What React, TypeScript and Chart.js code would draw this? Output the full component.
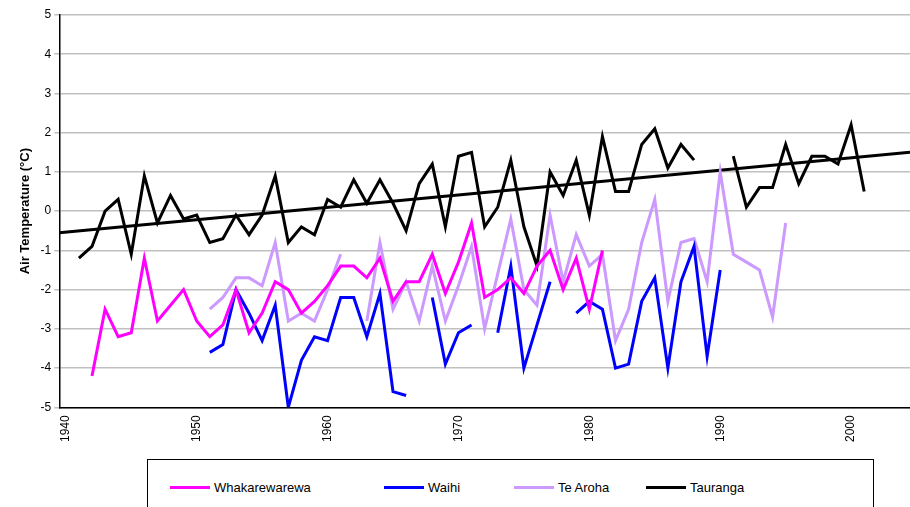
import React, { useEffect, useRef } from "react";
import { Chart, registerables } from "chart.js";
Chart.register(...registerables);

const taurangaStart = 1941;
const tauranga = [-1.2,-0.9,0,0.3,-1.1,0.9,-0.3,0.4,-0.2,-0.1,-0.8,-0.7,-0.1,-0.6,-0.1,0.9,-0.8,-0.4,-0.6,0.3,0.1,0.8,0.2,0.8,0.2,-0.5,0.7,1.2,-0.4,1.4,1.5,-0.4,0.1,1.3,-0.4,-1.4,1.0,0.4,1.3,-0.1,1.9,0.5,0.5,1.7,2.1,1.1,1.7,1.3,null,null,1.4,0.1,0.6,0.6,1.7,0.7,1.4,1.4,1.2,2.2,0.5];
const whakaStart = 1942;
const whaka = [-4.2,-2.5,-3.2,-3.1,-1.2,-2.8,-2.4,-2.0,-2.8,-3.2,-2.9,-2.0,-3.1,-2.6,-1.8,-2.0,-2.6,-2.3,-1.9,-1.4,-1.4,-1.7,-1.2,-2.3,-1.8,-1.8,-1.1,-2.1,-1.3,-0.3,-2.2,-2.0,-1.7,-2.1,-1.4,-1.0,-2.0,-1.2,-2.5,-1.0];
const waihiStart = 1951;
const waihi = [-3.6,-3.4,-2.0,-2.6,-3.3,-2.4,-5.0,-3.8,-3.2,-3.3,-2.2,-2.2,-3.2,-2.1,-4.6,-4.7,null,-2.2,-3.9,-3.1,-2.9,null,-3.1,-1.4,-4.0,-2.9,-1.8,null,-2.6,-2.3,-2.5,-4.0,-3.9,-2.3,-1.7,-4.0,-1.8,-0.9,-3.7,-1.5];
const aroahaStart = 1951;
const teAroha = [-2.5,-2.2,-1.7,-1.7,-1.9,-0.8,-2.8,-2.6,-2.8,-2.0,-1.1,null,-2.8,-0.8,-2.5,-1.8,-2.8,-1.4,-2.8,-1.9,-0.9,-3.0,-1.6,-0.2,-2.0,-2.4,-0.1,-1.8,-0.6,-1.4,-1.1,-3.3,-2.5,-0.8,0.3,-2.3,-0.8,-0.7,-1.8,1.0,-1.1,-1.3,-1.5,-2.7,-0.3];
const trendYears = [1939.5, 2004.5];
const trendValues = [-0.55, 1.5];
const xTicks = [1940, 1950, 1960, 1970, 1980, 1990, 2000];

const toPts = (start: number, arr: (number | null)[]) => arr.map((v, i) => ({ x: start + i, y: v }));

const legendItems = [
  { label: "Whakarewarewa", color: "#ff00ff", left: 22 },
  { label: "Waihi", color: "#0000ff", left: 236 },
  { label: "Te Aroha", color: "#cc99ff", left: 366 },
  { label: "Tauranga", color: "#000000", left: 498 },
];

export default function App() {
  const ref = useRef<HTMLCanvasElement>(null);
  useEffect(() => {
    document.body.style.margin = "0";
    const ds = (label: string, data: any[], color: string) => ({
      label, data, borderColor: color, backgroundColor: color, borderWidth: 3,
      pointRadius: 0, spanGaps: false, tension: 0,
    });
    const chart = new Chart(ref.current!, {
      type: "line",
      data: {
        datasets: [
          ds("Whakarewarewa", toPts(whakaStart, whaka), "#ff00ff"),
          ds("Waihi", toPts(waihiStart, waihi), "#0000ff"),
          ds("Te Aroha", toPts(aroahaStart, teAroha), "#cc99ff"),
          ds("Tauranga", toPts(taurangaStart, tauranga), "#000000"),
          { ...ds("Trend", trendYears.map((x, i) => ({ x, y: trendValues[i] })), "#000000") },
        ],
      },
      options: {
        animation: false,
        responsive: false,
        layout: { padding: { top: 15, right: 0, left: 14 } },
        plugins: { legend: { display: false }, tooltip: { enabled: false } },
        scales: {
          x: {
            type: "linear", min: 1939.5, max: 2004.5,
            afterBuildTicks: (s: any) => { s.ticks = xTicks.map((v) => ({ value: v })); },
            ticks: { maxRotation: 90, minRotation: 90, color: "#000", font: { family: "Liberation Sans, Arial", size: 12 }, callback: (v: any) => String(v) },
            grid: { display: false, drawTicks: true, tickLength: 5 },
            border: { color: "#000", width: 1.5 },
          },
          y: {
            min: -5, max: 5,
            ticks: { stepSize: 1, color: "#000", font: { family: "Liberation Sans, Arial", size: 12 } },
            grid: { color: "#c0c0c0", lineWidth: 1.5, drawTicks: true, tickLength: 5 },
            border: { color: "#000", width: 1.5 },
            title: { display: true, text: "Air Temperature (°C)", color: "#000", font: { family: "Liberation Sans, Arial", size: 13, weight: "bold" } },
          },
        },
      },
    });
    return () => chart.destroy();
  }, []);
  return (
    <div style={{ position: "relative", width: 910, height: 507, background: "#fff", overflow: "hidden" }}>
      <canvas ref={ref} width={910} height={445} style={{ display: "block" }} />
      <div style={{ position: "absolute", left: 147, top: 459, width: 727, height: 60, border: "1.5px solid #000", boxSizing: "border-box", fontFamily: "Liberation Sans, Arial", fontSize: 13 }}>
        {legendItems.map((it) => (
          <div key={it.label} style={{ position: "absolute", left: it.left, top: 20, display: "flex", alignItems: "center" }}>
            <div style={{ width: 40, height: 3, background: it.color, marginRight: 4 }} />
            <span>{it.label}</span>
          </div>
        ))}
      </div>
    </div>
  );
}
